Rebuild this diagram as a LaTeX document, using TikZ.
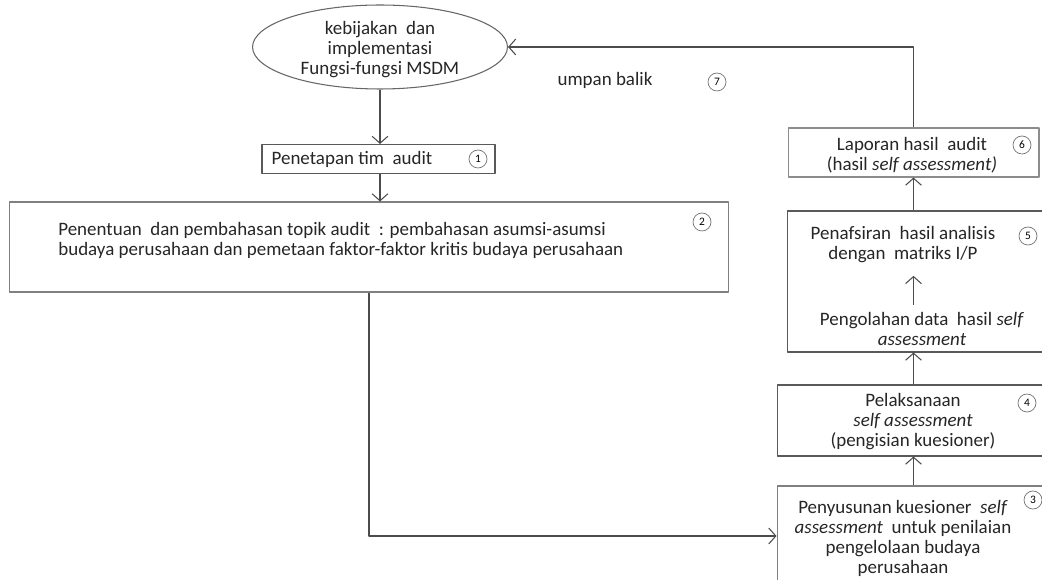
\documentclass[tikz,border=0pt]{standalone}
\usepackage{fontspec}
\setmainfont{Carlito}
\usetikzlibrary{arrows.meta,shapes.geometric}
\begin{document}
\begin{tikzpicture}[x=0.02cm, y=-0.02cm, font=\fontsize{10.8}{11.4}\selectfont, line join=round, >={Straight Barb[length=4pt,width=9pt]},
		kotak/.style={draw=black!65, line width=0.6pt, rectangle, inner sep=0pt},
		teks/.style={align=center, inner sep=0pt, text=black!85},
		nomor/.style={draw=black!55, circle, minimum size=0.36cm, inner sep=0pt, font=\fontsize{6.5}{7}\selectfont},
		panah/.style={->, draw=black!70, line width=0.6pt}]
		\useasboundingbox (0,0) rectangle (1042,580);
		\clip (0,0) rectangle (1042,580);
		% kolom kiri
		\node[ellipse, draw=black!60, line width=0.6pt, minimum width=5.1cm, minimum height=1.68cm, inner sep=0pt] (msdm) at (380,47) {};
		\node[teks] (tm) at (380,50) {kebijakan \ dan\\ implementasi\\ Fungsi-fungsi MSDM};
		\node[kotak, minimum width=4.66cm, minimum height=0.58cm] (b1) at (378.5,159) {};
		\node[teks] (t1) at (352,159) {Penetapan tim \ audit};
		\node[nomor] (c1) at (478,159) {1};
		\node[kotak, draw=black!50, minimum width=14.4cm, minimum height=1.8cm] (b2) at (369,247) {};
		\node[teks, align=left, anchor=west] (t2) at (58,240) {Penentuan \ dan pembahasan topik audit \ : pembahasan asumsi-asumsi\\ budaya perusahaan dan pemetaan faktor-faktor kritis budaya perusahaan};
		\node[nomor] (c2) at (702,222) {2};
		% kolom kanan
		\node[kotak, draw=black!50, minimum width=5.46cm, minimum height=2cm] (b3) at (913.5,536) {};
		\node[teks] (t3) at (903,538) {Penyusunan kuesioner \ \textit{self}\\ \textit{assessment} \ untuk penilaian\\ pengelolaan budaya\\ perusahaan};
		\node[nomor] (c3) at (1033,500) {3};
		\node[kotak, minimum width=5.46cm, minimum height=1.42cm] (b4) at (913.5,420.5) {};
		\node[teks] (t4) at (913,422) {Pelaksanaan\\ \textit{self assessment}\\ (pengisian kuesioner)};
		\node[nomor] (c4) at (1027,403) {4};
		\node[kotak, minimum width=5.26cm, minimum height=2.82cm] (b5) at (918.5,281.5) {};
		\node[teks] (p5a) at (903,245) {Penafsiran \ hasil analisis\\ dengan \ matriks I/P};
		\node[teks] (p5b) at (922,329) {Pengolahan data \ hasil \textit{self}\\ \textit{assessment}};
		\node[nomor] (c5) at (1028,236) {5};
		\node[kotak, draw=black!45, minimum width=5.02cm, minimum height=0.98cm] (b6) at (913.5,152.5) {};
		\node[teks] (t6) at (912,155) {Laporan hasil \ audit\\ (hasil \textit{self assessment)}};
		\node[nomor] (c6) at (1022,145) {6};
		\node[teks] (um) at (605,80) {umpan balik};
		\node[nomor] (c7) at (717,82) {7};
		% panah
		\draw[panah] (msdm.south) -- (msdm.south |- b1.north);
		\draw[panah] (b1.south -| msdm.south) -- (msdm.south |- b2.north);
		\draw[panah] (b2.south) |- (b3.west);
		\draw[panah] (b3.north) -- (b4.south);
		\draw[panah] (b4.north) -- (b4.north |- b5.south);
		\draw[panah] (b6.south |- b5.north) -- (b6.south);
		\draw[panah, shorten <=4pt, shorten >=7pt] (p5b.north -| b6.south) -- (p5a.south -| b6.south);
		\draw[panah] (b6.north) |- (msdm.east);
	\end{tikzpicture}
\end{document}
